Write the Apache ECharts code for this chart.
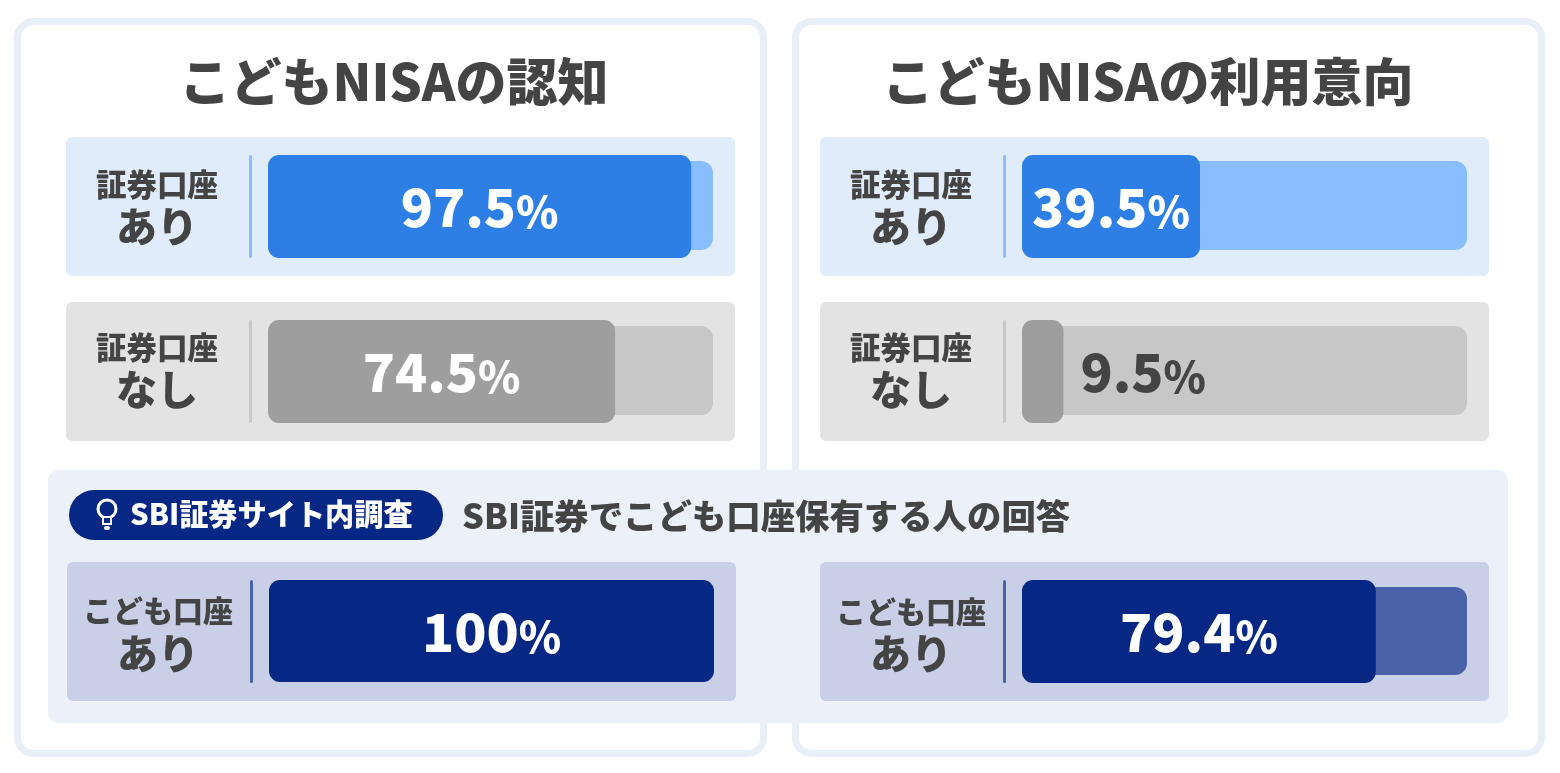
<!DOCTYPE html>
<html><head><meta charset="utf-8">
<style>html,body{margin:0;padding:0;background:#fff}#c{width:1560px;height:773px}</style>
<script src="https://cdn.jsdelivr.net/npm/echarts@6/dist/echarts.min.js"></script>
</head><body><div id="c"></div>
<script>
// Text
const panelTitles = ['こどもNISAの認知', 'こどもNISAの利用意向'];
const badgeText = 'SBI証券サイト内調査';
const subHeading = 'SBI証券でこども口座保有する人の回答';
const categories = ['証券口座|あり', '証券口座|なし', 'こども口座|あり', '証券口座|あり', '証券口座|なし', 'こども口座|あり'];
// Printed percentages
const printedLabels = ['97.5', '74.5', '100', '39.5', '9.5', '79.4'];
// Bar lengths as measured against each track. The two left-hand survey bars are
// drawn in the source at 95.1 and 78, which differs from their printed figures.
const barLengths = [95.1, 78, 100, 40, 9.3, 79.5];
const trackLengths = [100, 100, 100, 100, 100, 100];

const font = '"Noto Sans CJK JP","Noto Sans",sans-serif';
const ink = '#444444';
const themes = {
  blue: {row: '#e1ecfb', bar: '#2e7fe5', track: '#88bdff', rule: '#8bbdff'},
  gray: {row: '#e3e3e3', bar: '#9e9e9e', track: '#c7c7c7', rule: '#c8c8c8'},
  navy: {row: '#c9cfe6', bar: '#062783', track: '#4a63a8', rule: '#4a63a8'}
};
const layouts = [
  {theme: 'blue', rowX: 66,  rowY: 137, ruleX: 249, left: 268,  top: 155, h: 103, tTop: 161, tH: 89, pad: [0, 0, 0, 0]},
  {theme: 'gray', rowX: 66,  rowY: 302, ruleX: 249, left: 268,  top: 320, h: 103, tTop: 326, tH: 89, pad: [0, 0, 4, 0]},
  {theme: 'navy', rowX: 67,  rowY: 562, ruleX: 250, left: 269,  top: 580, h: 102, tTop: 587, tH: 88, pad: [4, 0, 0, 0]},
  {theme: 'blue', rowX: 820, rowY: 137, ruleX: 1003, left: 1022, top: 155, h: 103, tTop: 161, tH: 89, pad: [0, 0, 0, 0]},
  {theme: 'gray', rowX: 820, rowY: 302, ruleX: 1003, left: 1022, top: 320, h: 103, tTop: 326, tH: 89, pad: [0, 0, 4, 0]},
  {theme: 'navy', rowX: 820, rowY: 562, ruleX: 1003, left: 1022, top: 580, h: 103, tTop: 587, tH: 88, pad: [4, 0, 0, 0]}
];
const TRACK_W = 445, ROW_W = 669, ROW_H = 139;

const grid = [], xAxis = [], yAxis = [], series = [], graphic = [];

function panel(x) {
  graphic.push({type: 'rect', z: 1, shape: {x: x + 3.5, y: 21.5, width: 746, height: 732, r: 16},
    style: {fill: '#fff', stroke: '#e9eff8', lineWidth: 7}});
}
panel(14); panel(792);
graphic.push({type: 'rect', z: 2, shape: {x: 48, y: 470, width: 1460, height: 253, r: 10}, style: {fill: '#ecf0f8'}});
graphic.push({type: 'rect', z: 3, shape: {x: 69, y: 490, width: 374, height: 50, r: 25}, style: {fill: '#062783'}});
// Light-bulb icon of the badge
graphic.push({type: 'circle', z: 4, shape: {cx: 107, cy: 509, r: 9}, style: {fill: 'none', stroke: '#fff', lineWidth: 3}});
graphic.push({type: 'rect', z: 4, shape: {x: 103, y: 517, width: 8, height: 7}, style: {fill: '#062783', stroke: '#fff', lineWidth: 2}});
graphic.push({type: 'rect', z: 4, shape: {x: 104, y: 526, width: 6, height: 4, r: 2}, style: {fill: '#fff'}});
graphic.push({type: 'text', z: 4, style: {x: 130, y: 514, text: badgeText, fill: '#fff', font: '900 29.2px ' + font, textVerticalAlign: 'middle'}});
graphic.push({type: 'text', z: 4, style: {x: 462, y: 516, text: subHeading, fill: ink, font: '900 34.4px ' + font, textVerticalAlign: 'middle'}});
graphic.push({type: 'text', z: 4, style: {x: 394, y: 82, text: panelTitles[0], fill: ink, font: '900 51px ' + font, textAlign: 'center', textVerticalAlign: 'middle'}});
graphic.push({type: 'text', z: 4, style: {x: 1148, y: 82, text: panelTitles[1], fill: ink, font: '900 51px ' + font, textAlign: 'center', textVerticalAlign: 'middle'}});

layouts.forEach((l, i) => {
  const th = themes[l.theme];
  graphic.push({type: 'rect', z: 4, shape: {x: l.rowX, y: l.rowY, width: ROW_W, height: ROW_H, r: 6}, style: {fill: th.row}});
  graphic.push({type: 'rect', z: 5, shape: {x: l.ruleX, y: l.top, width: 3, height: 103, r: 1.5}, style: {fill: th.rule}});

  // Track (own grid so it can sit centred under the taller bar)
  grid.push({left: l.left, top: l.tTop, width: TRACK_W, height: l.tH});
  xAxis.push({gridIndex: 2 * i, type: 'value', min: 0, max: 100, show: false});
  yAxis.push({gridIndex: 2 * i, type: 'category', data: [categories[i]], show: false});
  series.push({type: 'bar', xAxisIndex: 2 * i, yAxisIndex: 2 * i, barWidth: l.tH, z: 6, silent: true,
    itemStyle: {color: th.track, borderRadius: 12}, data: [trackLengths[i]]});

  // Value bar, with the row name as its category label
  const isOutside = barLengths[i] < 15;
  grid.push({left: l.left, top: l.top, width: TRACK_W, height: l.h});
  xAxis.push({gridIndex: 2 * i + 1, type: 'value', min: 0, max: 100, show: false});
  yAxis.push({gridIndex: 2 * i + 1, type: 'category', data: [categories[i]], z: 8,
    axisLine: {show: false}, axisTick: {show: false},
    axisLabel: {margin: l.left - l.rowX - 91, align: 'center', padding: l.pad,
      formatter: v => { const p = v.split('|'); return '{a|' + p[0] + '}\n{b|' + p[1] + '}'; },
      rich: {
        a: {fontFamily: font, fontWeight: 900, fontSize: categories[i].startsWith('こども') ? 30 : 30.5, color: ink, lineHeight: 40},
        b: {fontFamily: font, fontWeight: 900, fontSize: 41, color: ink, lineHeight: 44}
      }}});
  const c = isOutside ? ink : '#fff';
  series.push({type: 'bar', xAxisIndex: 2 * i + 1, yAxisIndex: 2 * i + 1, barWidth: l.h, z: 7, silent: true,
    itemStyle: {color: th.bar, borderRadius: 11},
    label: {show: true, position: isOutside ? 'right' : 'inside', distance: 17, offset: [0, -3],
      formatter: () => '{n|' + printedLabels[i] + '}{p|%}',
      rich: {
        n: {fontFamily: font, fontWeight: 900, fontSize: 53, color: c, verticalAlign: 'bottom', lineHeight: 60},
        p: {fontFamily: font, fontWeight: 900, fontSize: 43, color: c, verticalAlign: 'bottom', lineHeight: 56}
      }},
    data: [barLengths[i]]});
});

const chart = echarts.init(document.getElementById('c'), null, {renderer: 'canvas'});
chart.setOption({animation: false, backgroundColor: '#fff', tooltip: {show: false}, graphic: {elements: graphic}, grid, xAxis, yAxis, series});
</script></body></html>
